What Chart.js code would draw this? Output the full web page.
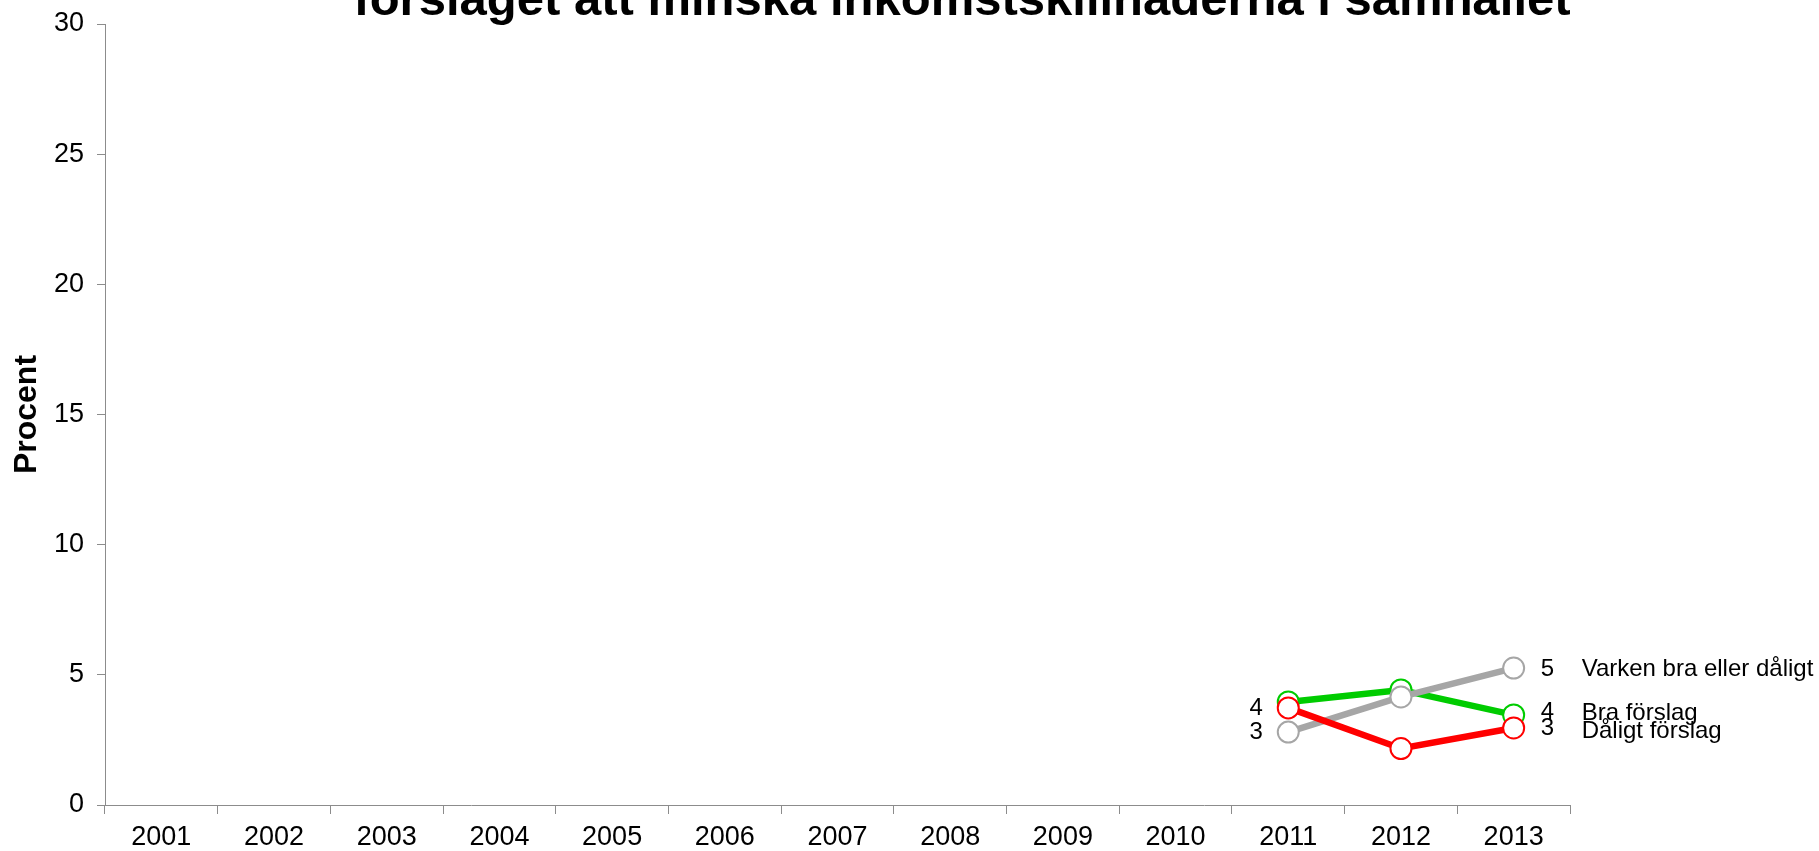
<!DOCTYPE html>
<html>
<head>
<meta charset="utf-8">
<script src="https://cdn.jsdelivr.net/npm/chart.js@4"></script>
<style>
  html, body { margin: 0; padding: 0; background: #fff; }
  #box { width: 1819px; height: 851px; }
</style>
</head>
<body>
<div id="box"><canvas id="chart"></canvas></div>
<script>
const years = ["2001", "2002", "2003", "2004", "2005", "2006", "2007", "2008", "2009", "2010", "2011", "2012", "2013"];
const bra = [null, null, null, null, null, null, null, null, null, null, 3.96, 4.42, 3.46];
const daligt = [null, null, null, null, null, null, null, null, null, null, 3.73, 2.17, 2.96];
const varken = [null, null, null, null, null, null, null, null, null, null, 2.8, 4.15, 5.26];
const seriesNames = ["Bra förslag", "Dåligt förslag", "Varken bra eller dåligt"];
const firstLabels = ["", "4", "3"];
const lastLabels = ["4", "3", "5"];
const yTicks = [0, 5, 10, 15, 20, 25, 30];
const yTitle = "Procent";
const titleText = "förslaget att minska inkomstskillnaderna i samhället";

const font = "'Liberation Sans', Arial, sans-serif";
const axisGrey = "#8c8c8c";

// small nudges so the end labels don't sit on top of each other
const nameNudge = [-2, 3, 1];
const valueNudge = [-3, 0, 1];

const extraText = {
  id: "extraText",
  afterDatasetsDraw(chart) {
    const ctx = chart.ctx;
    const area = chart.chartArea;
    ctx.save();
    ctx.fillStyle = "#000";
    ctx.font = "24px " + font;
    ctx.textBaseline = "middle";
    chart.data.datasets.forEach((ds, i) => {
      const pts = chart.getDatasetMeta(i).data;
      const idx = ds.data.map((v, k) => v == null ? -1 : k).filter(k => k >= 0);
      const first = pts[idx[0]];
      const last = pts[idx[idx.length - 1]];
      ctx.textAlign = "center";
      if (firstLabels[i]) ctx.fillText(firstLabels[i], first.x - 32, first.y);
      ctx.textAlign = "left";
      ctx.fillText(lastLabels[i], last.x + 27, last.y + valueNudge[i]);
      ctx.fillText(seriesNames[i], last.x + 68, last.y + nameNudge[i]);
    });

    // y axis title
    ctx.save();
    ctx.translate(27, (area.top + area.bottom) / 2);
    ctx.rotate(-Math.PI / 2);
    ctx.font = "bold 32px " + font;
    ctx.textAlign = "center";
    ctx.fillText(yTitle, 0, 0);
    ctx.restore();

    // title, the top of it runs off the canvas like in the original
    ctx.font = "bold 49px " + font;
    ctx.textAlign = "center";
    ctx.textBaseline = "alphabetic";
    ctx.fillText(titleText, 962, 15);
    ctx.restore();
  }
};

function lineSet(label, data, color, order) {
  return {
    label, data, order,
    borderColor: color,
    borderWidth: 6.5,
    pointRadius: 10.5,
    pointHoverRadius: 10.5,
    pointBorderWidth: 2,
    pointBorderColor: color,
    pointBackgroundColor: "#fff",
    tension: 0
  };
}

new Chart(document.getElementById("chart"), {
  type: "line",
  data: {
    labels: years,
    datasets: [
      lineSet(seriesNames[0], bra, "#00cc00", 2),
      lineSet(seriesNames[1], daligt, "#ff0000", 0),
      lineSet(seriesNames[2], varken, "#a6a6a6", 1)
    ]
  },
  options: {
    responsive: true,
    maintainAspectRatio: false,
    animation: false,
    events: [],
    layout: { padding: { top: 24, right: 249, left: 0, bottom: 0 } },
    plugins: { legend: { display: false }, tooltip: { enabled: false }, title: { display: false } },
    scales: {
      x: {
        offset: true,
        grid: { offset: true, drawOnChartArea: false, drawTicks: true, tickLength: 9, color: axisGrey },
        border: { color: axisGrey, width: 1 },
        ticks: { color: "#000", font: { family: font, size: 27 }, padding: 7, maxRotation: 0 },
        afterFit(scale) {
          scale.height = 46;
          scale.paddingLeft = 0;
          scale.paddingRight = 0;
        }
      },
      y: {
        min: 0,
        max: 30,
        afterBuildTicks(scale) { scale.ticks = yTicks.map(v => ({ value: v })); },
        grid: { drawOnChartArea: false, drawTicks: true, tickLength: 8, color: axisGrey },
        border: { color: axisGrey, width: 1 },
        ticks: { color: "#000", font: { family: font, size: 27 }, padding: 13 },
        afterFit(scale) {
          scale.width = 105;
          scale.paddingTop = 0;
          scale.paddingBottom = 0;
        }
      }
    }
  },
  plugins: [extraText]
});
</script>
</body>
</html>
